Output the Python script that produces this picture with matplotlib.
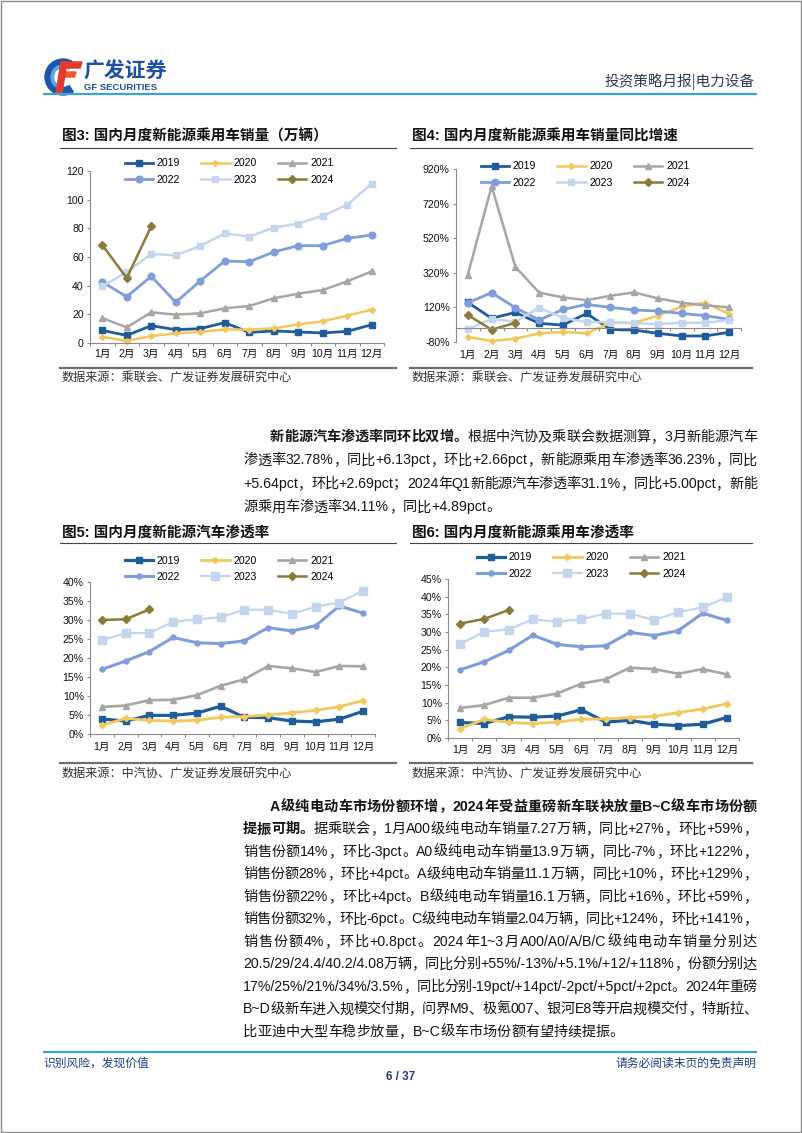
import numpy as np
import matplotlib
matplotlib.use('Agg')
import matplotlib.pyplot as plt
from matplotlib.patches import Wedge, Polygon, Rectangle

plt.rcParams['font.family'] = ['Liberation Sans', 'Noto Sans CJK SC', 'DejaVu Sans']
plt.rcParams['axes.unicode_minus'] = False

W, H, DPI = 802, 1133, 100

# ---------------- data ----------------
months = ['1月', '2月', '3月', '4月', '5月', '6月', '7月', '8月', '9月', '10月', '11月', '12月']
years = ['2019', '2020', '2021', '2022', '2023', '2024']

# 图3 国内月度新能源乘用车销量（万辆）
sales_2019 = [8.8, 5.3, 12.1, 9.3, 10.0, 14.2, 7.4, 8.4, 7.7, 7.0, 8.1, 12.8]
sales_2020 = [4.4, 1.4, 4.9, 6.7, 7.7, 9.5, 9.3, 10.2, 13.0, 15.1, 19.1, 23.3]
sales_2021 = [17.4, 10.9, 21.4, 19.8, 20.7, 24.2, 25.8, 31.2, 34.4, 37.0, 43.0, 50.0]
sales_2022 = [42.6, 32.3, 46.5, 28.4, 43.3, 57.2, 56.7, 63.5, 67.9, 67.9, 73.0, 75.3]
sales_2023 = [39.5, 49.5, 62.1, 61.2, 67.7, 76.5, 74.2, 80.5, 83.3, 88.8, 96.5, 111.2]
sales_2024 = [68.4, 45.3, 81.4]

# 图4 国内月度新能源乘用车销量同比增速（%）
yoy_2019 = [149, 57, 91, 28, 18, 85, -8, -11, -30, -45, -45, -24]
yoy_2020 = [-51, -74, -61, -30, -22, -30, 31, 30, 72, 124, 147, 82]
yoy_2021 = [310, 820, 355, 205, 178, 162, 187, 207, 172, 147, 132, 120]
yoy_2022 = [147, 205, 118, 47, 108, 137, 120, 105, 99, 85, 72, 51]
yoy_2023 = [-6, 53, 37, 118, 60, 35, 35, 28, 24, 31, 31, 47]
yoy_2024 = [76, -9, 31]

# 图5 国内月度新能源汽车渗透率（%）
nev_2019 = [3.95, 3.4, 4.9, 4.9, 5.5, 7.3, 4.4, 4.3, 3.4, 3.2, 3.9, 6.0]
nev_2020 = [2.3, 4.1, 3.6, 3.4, 3.6, 4.4, 4.6, 5.0, 5.6, 6.2, 7.2, 8.8]
nev_2021 = [7.1, 7.5, 8.9, 9.0, 10.2, 12.7, 14.4, 17.9, 17.3, 16.3, 17.9, 17.8]
nev_2022 = [17.0, 19.2, 21.7, 25.4, 24.0, 23.8, 24.5, 28.0, 27.1, 28.5, 33.7, 31.8]
nev_2023 = [24.7, 26.5, 26.6, 29.5, 30.2, 30.7, 32.7, 32.7, 31.6, 33.5, 34.6, 37.7]
nev_2024 = [30.0, 30.2, 32.78]

# 图6 国内月度新能源乘用车渗透率（%）
pv_2019 = [4.4, 4.1, 6.0, 5.9, 6.2, 8.0, 4.5, 5.0, 3.9, 3.5, 3.9, 5.8]
pv_2020 = [2.6, 5.3, 4.4, 4.1, 4.5, 5.3, 5.4, 5.8, 6.1, 7.2, 8.2, 9.7]
pv_2021 = [8.5, 9.3, 11.4, 11.4, 12.6, 15.4, 16.6, 19.9, 19.5, 18.2, 19.5, 18.0]
pv_2022 = [19.3, 21.6, 24.8, 29.1, 26.5, 25.8, 26.1, 29.9, 29.0, 30.4, 35.3, 33.3]
pv_2023 = [26.6, 30.1, 30.7, 33.6, 32.9, 33.6, 35.2, 35.2, 33.4, 35.6, 37.0, 39.8]
pv_2024 = [32.4, 33.7, 36.23]

sales_ticks = [0, 20, 40, 60, 80, 100, 120]
yoy_ticks = [-80, 120, 320, 520, 720, 920]
nev_ticks = [0, 5, 10, 15, 20, 25, 30, 35, 40]
pv_ticks = [0, 5, 10, 15, 20, 25, 30, 35, 40, 45]

# ---------------- page ----------------
fig = plt.figure(figsize=(W / DPI, H / DPI), dpi=DPI)
page = fig.add_axes([0, 0, 1, 1], zorder=0)
page.set_xlim(0, W)
page.set_ylim(H, 0)
page.axis('off')
renderer = fig.canvas.get_renderer()

NAVY = '#1E3F86'
LINEBLUE = '#3AA3D8'

# page frame
page.add_patch(Rectangle((0.5, 0.5), W - 1.5, H - 1.5, fill=False, ec='#8a8a8a', lw=1.0))

# header
page.add_patch(Wedge((63, 77), 18, 55, 305, width=7.5, color='#1D55A8'))
page.add_patch(Wedge((63, 77), 12, 110, 250, width=2.5, color='#5FA8DE'))
page.add_patch(Polygon([(63, 62), (82, 62), (80, 68), (61, 68)], color='#E5392B'))
page.add_patch(Polygon([(61, 72), (76, 72), (74.5, 77), (60, 77)], color='#EF5A2A'))
page.add_patch(Polygon([(61, 62), (67, 62), (62, 93), (56, 93)], color='#E5392B'))
page.text(83, 71, '广发证券', fontsize=15, fontweight='bold', color='#1E50A2',
          family=['Noto Sans CJK SC'], ha='left', va='center')
page.text(84, 88, 'GF SECURITIES', fontsize=6.8, fontweight='bold', color='#1E50A2',
          ha='left', va='center')
page.text(755, 82, '投资策略月报|电力设备', fontsize=10.5, color='#2E3B55',
          family=['Noto Sans CJK SC'], ha='right', va='center')
page.plot([43, 757], [93.5, 93.5], color=LINEBLUE, lw=1.6, solid_capstyle='butt')

# footer
page.plot([43, 757], [1052, 1052], color=LINEBLUE, lw=1.6, solid_capstyle='butt')
page.text(43, 1064, '识别风险，发现价值', fontsize=8.5, color=NAVY, ha='left', va='center')
page.text(757, 1064, '请务必阅读末页的免责声明', fontsize=8.5, color=NAVY, ha='right', va='center')
page.text(401, 1077, '6 / 37', fontsize=8.5, fontweight='bold', color=NAVY, ha='center', va='center')

# ---------------- justified body text ----------------
FS_BODY = 10.2
BODY_L, BODY_R, INDENT = 243, 757, 270
_cache = {}


def is_wide(ch):
    return ord(ch) > 0x2000


def tokenize(s):
    toks, buf = [], ''
    for ch in s:
        if is_wide(ch):
            if buf:
                toks.append(buf)
                buf = ''
            toks.append(ch)
        else:
            buf += ch
    if buf:
        toks.append(buf)
    return toks


def measure(tok, bold):
    key = (tok, bold)
    if key not in _cache:
        fw = 'bold' if bold else 'normal'
        t1 = page.text(0, 0, '口' + tok + '口', fontsize=FS_BODY, fontweight=fw)
        t2 = page.text(0, 0, '口口', fontsize=FS_BODY, fontweight=fw)
        w = t1.get_window_extent(renderer).width - t2.get_window_extent(renderer).width
        t1.remove()
        t2.remove()
        _cache[key] = w
    return _cache[key]


def draw_line(segments, y, x0, justify):
    toks = []
    for txt, bold in segments:
        for t in tokenize(txt):
            toks.append((t, bold))
    widths = [measure(t, b) for t, b in toks]
    gap = 0.0
    if justify and len(toks) > 1:
        gap = (BODY_R - x0 - sum(widths)) / (len(toks) - 1)
    x = x0
    for (t, b), w in zip(toks, widths):
        page.text(x, y + 4.8, t, fontsize=FS_BODY, fontweight='bold' if b else 'normal',
                  color='#151515', ha='left', va='baseline')
        x += w + gap


para1 = [
    [('新能源汽车渗透率同环比双增。', True), ('根据中汽协及乘联会数据测算，3月新能源汽车', False)],
    [('渗透率32.78%，同比+6.13pct，环比+2.66pct，新能源乘用车渗透率36.23%，同比', False)],
    [('+5.64pct，环比+2.69pct；2024年Q1新能源汽车渗透率31.1%，同比+5.00pct，新能', False)],
    [('源乘用车渗透率34.11%，同比+4.89pct。', False)],
]
para2 = [
    [('A级纯电动车市场份额环增，2024年受益重磅新车联袂放量B~C级车市场份额', True)],
    [('提振可期。', True), ('据乘联会，1月A00级纯电动车销量7.27万辆，同比+27%，环比+59%，', False)],
    [('销售份额14%，环比-3pct。A0级纯电动车销量13.9万辆，同比-7%，环比+122%，', False)],
    [('销售份额28%，环比+4pct。A级纯电动车销量11.1万辆，同比+10%，环比+129%，', False)],
    [('销售份额22%，环比+4pct。B级纯电动车销量16.1万辆，同比+16%，环比+59%，', False)],
    [('销售份额32%，环比-6pct。C级纯电动车销量2.04万辆，同比+124%，环比+141%，', False)],
    [('销售份额4%，环比+0.8pct。2024年1~3月A00/A0/A/B/C级纯电动车销量分别达', False)],
    [('20.5/29/24.4/40.2/4.08万辆，同比分别+55%/-13%/+5.1%/+12/+118%，份额分别达', False)],
    [('17%/25%/21%/34%/3.5%，同比分别-19pct/+14pct/-2pct/+5pct/+2pct。2024年重磅', False)],
    [('B~D级新车进入规模交付期，问界M9、极氪007、银河E8等开启规模交付，特斯拉、', False)],
    [('比亚迪中大型车稳步放量，B~C级车市场份额有望持续提振。', False)],
]


def draw_para(lines, y0, step):
    n = len(lines)
    for i, segs in enumerate(lines):
        x0 = INDENT if i == 0 else BODY_L
        draw_line(segs, y0 + i * step, x0, justify=(i < n - 1))


draw_para(para1, 436, 23.5)
draw_para(para2, 806, 22.5)

# ---------------- charts ----------------
COLORS = {'2019': '#1F5C9A', '2020': '#F2C75C', '2021': '#A6A6A6',
          '2022': '#7F9DD8', '2023': '#C3D6EE', '2024': '#8A7B3B'}
MARKERS = {'2019': 's', '2020': 'D', '2021': '^', '2022': 'o', '2023': 's', '2024': 'D'}
SPINE = '#8c8c8c'


def chart_frame(x0, x1, title, title_y, line_y, rule_y, src, src_y):
    page.text(x0 + 2, title_y, title, fontsize=10.5, fontweight='bold', color='#111111',
              ha='left', va='center')
    page.plot([x0, x1], [line_y, line_y], color='#444444', lw=0.8)
    page.plot([x0, x1], [rule_y, rule_y], color='#6e6e6e', lw=1.6)
    page.text(x0 + 2, src_y, src, fontsize=8.7, color='#333333', ha='left', va='center')


def draw_chart(box, series, ticks, fmt, leg_c, lw, ms, xpad=4.5):
    l, t, r, b = box
    ax = fig.add_axes([l / W, 1 - b / H, (r - l) / W, (b - t) / H], zorder=2)
    ax.patch.set_alpha(0)
    x = np.arange(12)
    handles = {}
    for yr, vals in zip(years, series):
        h, = ax.plot(x[:len(vals)], vals, color=COLORS[yr], lw=lw[yr], marker=MARKERS[yr],
                     ms=ms[yr], mfc=COLORS[yr], mec=COLORS[yr], solid_joinstyle='round',
                     clip_on=False)
        handles[yr] = h
    ymin, ymax = ticks[0], ticks[-1]
    ax.set_xlim(-0.5, 11.5)
    ax.set_ylim(ymin, ymax)
    ax.set_yticks(ticks)
    ax.set_yticklabels([fmt(v) for v in ticks])
    ax.set_xticks(x)
    ax.set_xticklabels(months)
    ax.set_xticks(np.arange(-0.5, 12, 1), minor=True)
    for s in ['top', 'right']:
        ax.spines[s].set_visible(False)
    for s in ['left', 'bottom']:
        ax.spines[s].set_color(SPINE)
        ax.spines[s].set_linewidth(0.8)
    pad = xpad
    if ymin < 0:
        ax.spines['bottom'].set_position(('data', 0))
        axh = b - t
        pad = ((0 - ymin) / (ymax - ymin) * axh) * 72 / DPI + xpad
    ax.tick_params(axis='x', which='major', length=0, pad=pad, labelsize=7.6, labelcolor='#111111')
    ax.tick_params(axis='x', which='minor', length=2.5, width=0.8, color=SPINE, direction='out')
    ax.tick_params(axis='y', length=2.5, width=0.8, color=SPINE, pad=2, labelsize=7.6,
                   labelcolor='#111111')
    order = ['2019', '2022', '2020', '2023', '2021', '2024']
    ax.legend([handles[k] for k in order], order, ncol=3, loc='center',
              bbox_to_anchor=(leg_c[0] / W, 1 - leg_c[1] / H), bbox_transform=fig.transFigure,
              frameon=False, fontsize=7.6, handlelength=2.7, handletextpad=0.35,
              columnspacing=2.0, labelspacing=0.6, borderaxespad=0, borderpad=0)
    return ax


lw_a = {'2019': 2.0, '2020': 1.8, '2021': 1.8, '2022': 2.0, '2023': 1.8, '2024': 1.8}
ms_a = {'2019': 3.8, '2020': 3.0, '2021': 4.2, '2022': 4.8, '2023': 4.0, '2024': 3.8}
lw_b = {'2019': 2.3, '2020': 2.0, '2021': 1.9, '2022': 2.2, '2023': 1.6, '2024': 1.8}
ms_b = {'2019': 4.0, '2020': 3.2, '2021': 4.2, '2022': 3.6, '2023': 5.2, '2024': 3.6}

# 图3
chart_frame(60, 396, '图3: 国内月度新能源乘用车销量（万辆）', 136, 148, 368,
            '数据来源：乘联会、广发证券发展研究中心', 379)
draw_chart((90, 171, 384, 343),
           [sales_2019, sales_2020, sales_2021, sales_2022, sales_2023, sales_2024],
           sales_ticks, lambda v: f'{v:d}', (229, 171.5), lw_a, ms_a)

# 图4
chart_frame(410, 752, '图4: 国内月度新能源乘用车销量同比增速', 136, 148, 368,
            '数据来源：乘联会、广发证券发展研究中心', 379)
draw_chart((456, 169, 741, 342),
           [yoy_2019, yoy_2020, yoy_2021, yoy_2022, yoy_2023, yoy_2024],
           yoy_ticks, lambda v: f'{v:d}%', (585, 174.5), lw_a, ms_a, xpad=6)

# 图5
chart_frame(60, 396, '图5: 国内月度新能源汽车渗透率', 533, 543, 763,
            '数据来源：中汽协、广发证券发展研究中心', 774)
draw_chart((90, 582, 375, 734),
           [nev_2019, nev_2020, nev_2021, nev_2022, nev_2023, nev_2024],
           nev_ticks, lambda v: f'{v:d}%', (229, 569), lw_b, ms_b, xpad=6)

# 图6
chart_frame(410, 752, '图6: 国内月度新能源乘用车渗透率', 533, 543, 763,
            '数据来源：中汽协、广发证券发展研究中心', 774)
draw_chart((448, 579, 739, 738),
           [pv_2019, pv_2020, pv_2021, pv_2022, pv_2023, pv_2024],
           pv_ticks, lambda v: f'{v:d}%', (581, 565.5), lw_b, ms_b, xpad=5)

fig.savefig('out.png', dpi=DPI)
